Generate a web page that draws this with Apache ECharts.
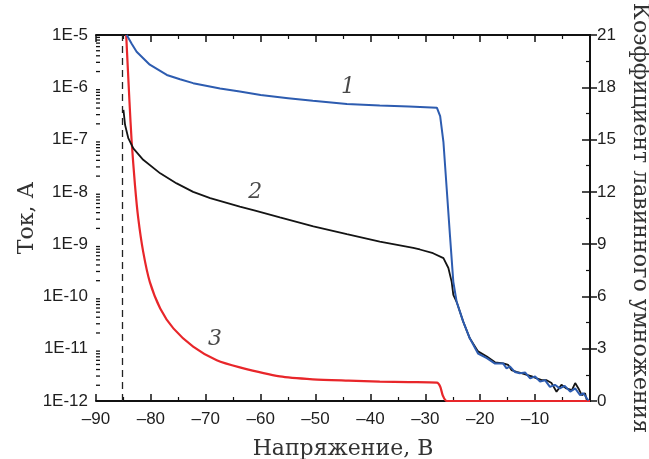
<!DOCTYPE html>
<html>
<head>
<meta charset="utf-8">
<script src="https://cdn.jsdelivr.net/npm/echarts@6/dist/echarts.min.js"></script>
<style>html,body{margin:0;padding:0;background:#fff}#c{width:649px;height:459px}</style>
</head>
<body>
<div id="c"></div>
<script>
// ---- data ----
const xTicks = [-90, -80, -70, -60, -50, -40, -30, -20, -10];
const leftTicks = ['1E-12','1E-11','1E-10','1E-9','1E-8','1E-7','1E-6','1E-5'];
const rightTicks = [0, 3, 6, 9, 12, 15, 18, 21];

const blueX = [-84.4,-83.5,-82.6,-80.2,-77.1,-74.7,-72.3,-67.4,-63.8,-60,-55,-50.5,-44.3,-38.3,-33,-27.9,-27.3,-26.7,-26.1,-25.5,-24.9,-24.3,-23.1,-21.9,-20.4,-18.8,-17.3,-15.8,-15.2,-14.6,-13.7,-12.8,-11.8,-10.9,-10.0,-9.1,-8.2,-7.3,-6.4,-5.5,-4.6,-3.6,-2.7,-1.8,-1.2,-0.3];
const blueY = [1e-5,6.8e-6,4.8e-6,2.7e-6,1.72e-6,1.42e-6,1.2e-6,9.5e-7,8.3e-7,7.1e-7,6.2e-7,5.5e-7,4.8e-7,4.5e-7,4.3e-7,4.07e-7,2.8e-7,8.9e-8,1.12e-8,1.41e-9,1.9e-10,7.9e-11,3.3e-11,1.58e-11,8.1e-12,6.6e-12,5.2e-12,5.2e-12,4.2e-12,4.6e-12,3.6e-12,3.4e-12,3.5e-12,2.7e-12,2.95e-12,2.35e-12,2.5e-12,1.86e-12,2.04e-12,1.74e-12,1.95e-12,1.51e-12,1.74e-12,1.29e-12,1.41e-12,1.02e-12];

const blackX = [-85.0,-84.7,-84.1,-83.2,-81.4,-78.3,-75.3,-72.3,-69.2,-63.8,-61,-56.5,-50.4,-44.3,-38.3,-32.2,-31.0,-28.6,-26.7,-25.8,-25.2,-24.9,-24.3,-23.1,-21.9,-20.4,-18.8,-17.3,-15.8,-14.9,-14.3,-13.4,-12.5,-11.5,-10.6,-9.7,-8.8,-7.9,-7.0,-6.1,-5.2,-4.3,-3.3,-2.7,-2.1,-1.5,-0.9,-0.6];
const blackY = [3.7e-7,1.9e-7,1.05e-7,6.8e-8,4.1e-8,2.26e-8,1.45e-8,1.0e-8,7.6e-9,5.2e-9,4.37e-9,3.24e-9,2.19e-9,1.55e-9,1.12e-9,8.5e-10,7.9e-10,6.7e-10,5.4e-10,3.5e-10,1.9e-10,1.07e-10,7.9e-11,3.3e-11,1.58e-11,8.9e-12,7.1e-12,5.5e-12,5.25e-12,4.9e-12,3.9e-12,3.6e-12,3.4e-12,3.16e-12,2.95e-12,2.7e-12,2.5e-12,2.5e-12,2.2e-12,1.5e-12,2.04e-12,1.74e-12,1.62e-12,2.2e-12,1.74e-12,1.29e-12,1.41e-12,1.05e-12];

const redX = [-84.5,-83.9,-83.5,-82.9,-82.3,-81.4,-80.2,-78.3,-75.9,-72.3,-68.0,-63.8,-56.5,-50.5,-44,-38.3,-33,-27.9,-27.3,-26.8,-26.1,0];
const redY = [1e-5,5.3e-7,9.1e-8,1.35e-8,3.1e-9,7.1e-10,1.9e-10,5.9e-11,2.45e-11,1.1e-11,6.0e-12,4.4e-12,2.95e-12,2.6e-12,2.45e-12,2.35e-12,2.3e-12,2.25e-12,1.9e-12,1.26e-12,1e-12,1e-12];

const dashX = -85.3;
const curveLabels = ['1', '2', '3'];
const labelX = [-44.1, -61, -68.3];
const labelY = [9.8e-7, 1.0e-8, 1.5e-11];

const xTitle = 'Напряжение, В';
const yTitle = 'Ток, А';
const y2Title = 'Коэффициент лавинного умножения';

// ---- build ----
const zip = (xs, ys) => xs.map((x, i) => [x, ys[i]]);
const xMin = -90, xMax = 0;
const yMin = 1e-12, yMax = 1e-5;
// minor log tick values (2..9 x 10^e)
const minorVals = [];
for (let e = -12; e < -5; e++) for (let m = 2; m <= 9; m++) minorVals.push([xMin, m * Math.pow(10, e)]);

const tickFont = { fontFamily: 'Liberation Sans, Arial, sans-serif', fontSize: 17, color: '#1e1e1e' };
const nameFont = { fontFamily: 'DejaVu Serif, serif', fontSize: 22, color: '#333' };
const axisLine = { show: true, lineStyle: { color: '#111', width: 2 } };

const chart = echarts.init(document.getElementById('c'), null, { renderer: 'canvas' });
chart.setOption({
  animation: false,
  backgroundColor: '#fff',
  grid: { left: 96, right: 59, top: 35, bottom: 58, containLabel: false, outerBoundsMode: 'none' },
  xAxis: [
    { type: 'value', position: 'bottom', min: xMin, max: xMax, interval: 10, z: 0,
      axisLine, splitLine: { show: false },
      axisTick: { inside: true, length: 7, lineStyle: { color: '#111', width: 1.5 } },
      minorTick: { show: true, splitNumber: 2, length: 4, lineStyle: { color: '#111', width: 1.2 } },
      axisLabel: Object.assign({ margin: 10, formatter: v => xTicks.indexOf(v) >= 0 ? '\u2013' + Math.abs(v) : '' }, tickFont),
      name: xTitle, nameLocation: 'middle', nameGap: 37, nameMoveOverlap: false, nameTextStyle: nameFont },
    { type: 'value', position: 'top', min: xMin, max: xMax, interval: 10, z: 0,
      axisLine, splitLine: { show: false }, axisLabel: { show: false },
      axisTick: { inside: true, length: 7, lineStyle: { color: '#111', width: 1.5 } },
      minorTick: { show: true, splitNumber: 2, length: 4, lineStyle: { color: '#111', width: 1.2 } } }
  ],
  yAxis: [
    { type: 'log', logBase: 10, position: 'left', min: yMin, max: yMax, interval: 1, z: 0,
      axisLine, splitLine: { show: false },
      axisTick: { inside: true, length: 7, lineStyle: { color: '#111', width: 1.5 } },
      axisLabel: Object.assign({ margin: 8, formatter: v => leftTicks[Math.round(Math.log10(v)) + 12] || '' }, tickFont),
      name: yTitle, nameLocation: 'middle', nameGap: 58, nameMoveOverlap: false, nameTextStyle: nameFont },
    { type: 'value', position: 'right', min: 0, max: 21, interval: 3, z: 0,
      axisLine, splitLine: { show: false },
      axisTick: { inside: true, length: 8, lineStyle: { color: '#111', width: 1.5 } },
      minorTick: { show: true, splitNumber: 2, length: 4, lineStyle: { color: '#111', width: 1.2 } },
      axisLabel: Object.assign({ margin: 7, formatter: v => rightTicks.indexOf(v) >= 0 ? String(v) : '' }, tickFont),
      name: y2Title, nameLocation: 'middle', nameRotate: -90, nameGap: 39, nameTextStyle: nameFont }
  ],
  series: [
    { type: 'custom', xAxisIndex: 0, yAxisIndex: 0, data: minorVals, clip: false, silent: true, z: 1,
      renderItem: (params, api) => {
        const p = api.coord([api.value(0), api.value(1)]);
        return { type: 'line', shape: { x1: p[0], y1: p[1], x2: p[0] + 4, y2: p[1] },
          style: { stroke: '#111', lineWidth: 1.3 } };
      } },
    { type: 'line', xAxisIndex: 0, yAxisIndex: 0, data: zip(redX, redY), symbol: 'none', smooth: 0.25,
      clip: false, lineStyle: { color: '#e8262a', width: 2.2 }, z: 10 },
    { type: 'line', xAxisIndex: 0, yAxisIndex: 0, data: zip(blackX, blackY), symbol: 'none',
      lineStyle: { color: '#141414', width: 1.8 }, z: 11,
      markLine: { silent: true, symbol: 'none', label: { show: false },
        lineStyle: { color: '#222', width: 1.3, type: [7, 5] },
        data: [{ xAxis: dashX }] } },
    { type: 'line', xAxisIndex: 0, yAxisIndex: 0, data: zip(blueX, blueY), symbol: 'none',
      lineStyle: { color: '#2d5cb0', width: 2 }, z: 12 },
    { type: 'scatter', xAxisIndex: 0, yAxisIndex: 0, symbolSize: 2, itemStyle: { color: 'rgba(0,0,0,0)' },
      data: curveLabels.map((t, i) => ({ value: [labelX[i], labelY[i]], name: t })),
      label: { show: true, position: 'inside', formatter: p => p.name,
        fontFamily: 'DejaVu Serif, serif', fontStyle: 'italic', fontSize: 22, color: '#1a1a1a' },
      labelLayout: { hideOverlap: false }, z: 13 }
  ]
});
</script>
</body>
</html>
